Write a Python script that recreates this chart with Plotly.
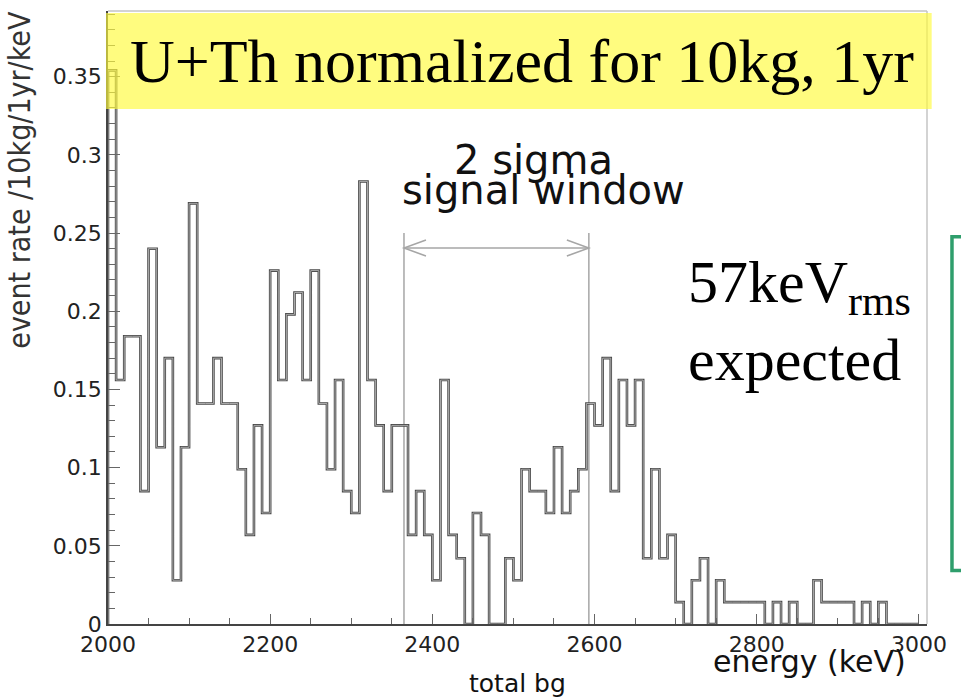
import plotly.graph_objects as go

# Energy binning of the background histogram (keV)
e_min = 2000
bin_width = 10

# Background event rate per 10 keV bin, /10kg/1yr/keV
rate = [0.354, 0.156, 0.184, 0.184, 0.085, 0.240, 0.113, 0.170, 0.028, 0.113,
        0.269, 0.141, 0.141, 0.170, 0.141, 0.141, 0.099, 0.057, 0.127, 0.071,
        0.226, 0.156, 0.198, 0.212, 0.156, 0.226, 0.141, 0.099, 0.156, 0.085,
        0.071, 0.283, 0.156, 0.127, 0.085, 0.127, 0.127, 0.057, 0.085, 0.057,
        0.028, 0.156, 0.057, 0.042, 0.000, 0.071, 0.057, 0.000, 0.000, 0.042,
        0.028, 0.099, 0.085, 0.085, 0.071, 0.113, 0.071, 0.085, 0.099, 0.141,
        0.127, 0.170, 0.085, 0.156, 0.127, 0.156, 0.042, 0.099, 0.042, 0.057,
        0.014, 0.000, 0.028, 0.042, 0.000, 0.028, 0.014, 0.014, 0.014, 0.014,
        0.014, 0.000, 0.014, 0.000, 0.014, 0.000, 0.000, 0.028, 0.014, 0.014,
        0.014, 0.014, 0.000, 0.014, 0.000, 0.014, 0.000, 0.000, 0.000, 0.000]

# Signal window: Q-value and expected resolution (keV)
q_value = 2479
sigma = 57
window_lo = q_value - 2 * sigma
window_hi = q_value + 2 * sigma

x_range = [2000, 3010]
y_range = [0, 0.392]

# Step outline: start at zero on the left edge, one step per bin
edges = [e_min + bin_width * i for i in range(len(rate) + 1)]
step_x = [edges[0]] + edges
step_y = [0] + rate + [rate[-1]]

fig = go.Figure()
fig.add_trace(go.Scatter(x=step_x, y=step_y, mode="lines", line_shape="hv",
                         line=dict(color="#4a4a4a", width=2.6), hoverinfo="skip"))
fig.add_trace(go.Scatter(x=step_x, y=step_y, mode="lines", line_shape="hv",
                         line=dict(color="#b4b4b4", width=0.9), hoverinfo="skip"))

sans = "DejaVu Sans, Liberation Sans, sans-serif"
serif = "Liberation Serif, Times New Roman, serif"
grey = "#a6a6a6"

shapes = [
    # window edges
    dict(type="line", xref="x", yref="y", x0=window_lo, x1=window_lo, y0=0, y1=0.25,
         line=dict(color=grey, width=1.5), layer="below"),
    dict(type="line", xref="x", yref="y", x0=window_hi, x1=window_hi, y0=0, y1=0.25,
         line=dict(color=grey, width=1.5), layer="below"),
    # double arrow
    dict(type="line", xref="x", yref="y", x0=window_lo, x1=window_hi, y0=0.2404, y1=0.2404,
         line=dict(color=grey, width=1.5)),
    dict(type="path", xref="x", yref="y", xsizemode="pixel", ysizemode="pixel",
         xanchor=window_lo, yanchor=0.2404, path="M 22 8 L 0 0 L 22 -8",
         line=dict(color=grey, width=1.5)),
    dict(type="path", xref="x", yref="y", xsizemode="pixel", ysizemode="pixel",
         xanchor=window_hi, yanchor=0.2404, path="M -22 8 L 0 0 L -22 -8",
         line=dict(color=grey, width=1.5)),
    # light frame on top and right
    dict(type="line", xref="paper", yref="paper", x0=0, x1=1, y0=1, y1=1,
         line=dict(color="#c4c4c4", width=1.5)),
    dict(type="line", xref="paper", yref="paper", x0=1, x1=1, y0=0, y1=1,
         line=dict(color="#c4c4c4", width=1.5)),
    # yellow banner
    dict(type="rect", xref="paper", yref="paper", x0=-0.0024, x1=1.0057, y0=0.840, y1=0.9967,
         fillcolor="rgba(255,250,60,0.66)", line=dict(width=0), layer="above"),
    # green bracket
    dict(type="path", xref="paper", yref="paper",
         path="M 1.0415 0.6316 L 1.0305 0.6316 L 1.0305 0.0872 L 1.0415 0.0872",
         line=dict(color="#2f9e6c", width=3.5)),
]

annotations = [
    dict(text="U+Th normalized for 10kg, 1yr", xref="paper", yref="paper",
         x=0.5055, y=0.918, xanchor="center", yanchor="middle", showarrow=False,
         font=dict(family=serif, size=62, color="#000000")),
    dict(text="2 sigma", xref="paper", yref="paper", x=0.519, y=0.7575,
         xanchor="center", yanchor="middle", showarrow=False,
         font=dict(family=sans, size=40, color="#111111")),
    dict(text="signal window", xref="paper", yref="paper", x=0.5317, y=0.708,
         xanchor="center", yanchor="middle", showarrow=False,
         font=dict(family=sans, size=40, color="#111111")),
    dict(text="57keV<sub>rms</sub>", xref="paper", yref="paper", x=0.7057, y=0.550,
         xanchor="left", yanchor="middle", showarrow=False,
         font=dict(family=serif, size=60, color="#000000")),
    dict(text="expected", xref="paper", yref="paper", x=0.7057, y=0.430,
         xanchor="left", yanchor="middle", showarrow=False,
         font=dict(family=serif, size=60, color="#000000")),
    dict(text="energy (keV)", xref="paper", yref="paper", x=0.856, y=-0.0611,
         xanchor="center", yanchor="middle", showarrow=False,
         font=dict(family=sans, size=30, color="#111111")),
    dict(text="total bg", xref="paper", yref="paper", x=0.5006, y=-0.097,
         xanchor="center", yanchor="middle", showarrow=False,
         font=dict(family=sans, size=25, color="#111111")),
    dict(text="event rate /10kg/1yr/keV", xref="paper", yref="paper", x=-0.108, y=0.724,
         xanchor="center", yanchor="middle", textangle=-90, showarrow=False,
         font=dict(family="DejaVu Sans Condensed, Liberation Sans Narrow, DejaVu Sans",
                   size=30, color="#333333")),
]

fig.update_layout(
    width=961, height=698,
    margin=dict(l=108, r=34, t=11, b=73.5),
    paper_bgcolor="white", plot_bgcolor="white",
    showlegend=False,
    shapes=shapes,
    annotations=annotations,
    xaxis=dict(range=x_range, tick0=2000, dtick=200, ticks="inside", ticklen=10,
               tickwidth=1.2, tickcolor="#666666", showline=True, linecolor="#444444",
               linewidth=1.5, showgrid=False, zeroline=False,
               tickfont=dict(family=sans, size=22, color="#222222"),
               minor=dict(ticks="inside", dtick=50, ticklen=6, tickcolor="#666666",
                          tickwidth=1, showgrid=False)),
    yaxis=dict(range=y_range, tick0=0, dtick=0.05, ticks="inside", ticklen=12,
               tickwidth=1.2, tickcolor="#666666", showline=True, linecolor="#444444",
               linewidth=1.5, showgrid=False, zeroline=False,
               tickfont=dict(family=sans, size=22, color="#222222"),
               minor=dict(ticks="inside", dtick=0.01, ticklen=7, tickcolor="#666666",
                          tickwidth=1, showgrid=False)),
)

fig.write_html("out.html")
